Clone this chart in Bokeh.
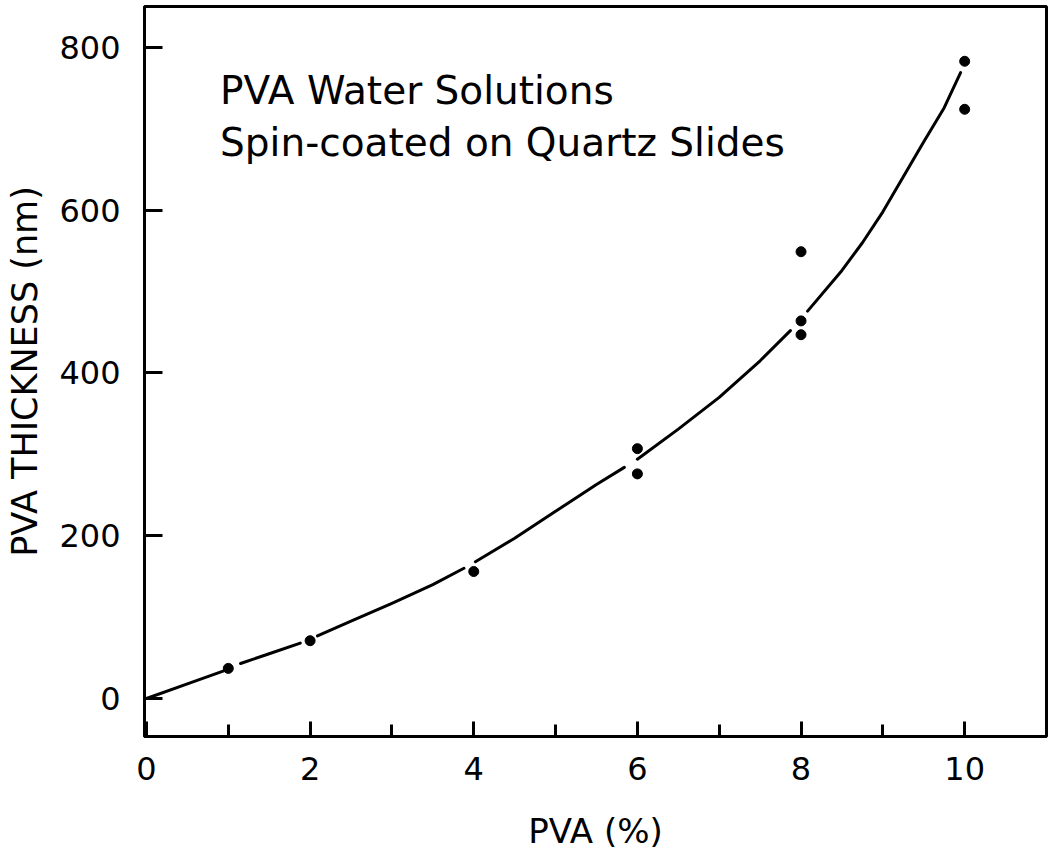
from bokeh.plotting import figure
from bokeh.models import FixedTicker, Range1d, Label
from bokeh.embed import file_html
from bokeh.resources import INLINE

# ---- data ----
pva_pct = [1, 2, 4, 6, 6, 8, 8, 8, 10, 10]
thickness_nm = [37, 71, 156, 307, 276, 549, 464, 447, 783, 724]

nan = float("nan")
# hand-drawn fit curve (pen lifted near the data points -> NaN breaks)
curve_x = [0, 0.5, 0.945, nan, 1.15, 1.5, 1.88, nan, 2.09, 2.5, 3, 3.5, 3.88, nan,
           4.02, 4.5, 5, 5.5, 5.84, nan, 6.0, 6.5, 7, 7.5, 7.87, nan,
           8.08, 8.5, 8.75, 9, 9.25, 9.5, 9.75, 9.95]
curve_y = [0, 18, 34, nan, 43, 55, 68, nan, 77, 95, 117, 140, 160, nan,
           168, 197, 230, 263, 284, nan, 294, 331, 370, 415, 452, nan,
           476, 526, 560, 598, 641, 684, 726, 769]

x_major = [0, 2, 4, 6, 8, 10]
x_minor = [1, 3, 5, 7, 9]
y_major = [0, 200, 400, 600, 800]

note_lines = ["PVA Water Solutions", "Spin-coated on Quartz Slides"]
x_title = "PVA (%)"
y_title = "PVA THICKNESS (nm)"

FONT = "DejaVu Sans"

p = figure(width=1048, height=860, output_backend="svg", toolbar_location=None,
           x_range=Range1d(-0.024, 11.0), y_range=Range1d(-46.7, 850.3),
           min_border_left=144, min_border_right=2, min_border_top=6,
           min_border_bottom=124)

p.xgrid.visible = False
p.ygrid.visible = False
p.background_fill_color = "white"
p.border_fill_color = "white"
p.outline_line_color = "black"
p.outline_line_width = 3

# x axis
xa = p.xaxis[0]
xa.ticker = FixedTicker(ticks=x_major, minor_ticks=x_minor)
xa.axis_line_width = 3
xa.major_tick_line_width = 3
xa.minor_tick_line_width = 3
xa.major_tick_in = 15
xa.major_tick_out = 0
xa.minor_tick_in = 12
xa.minor_tick_out = 0
xa.major_label_standoff = 20
xa.major_label_text_font = FONT
xa.major_label_text_font_size = "32px"
xa.major_label_text_color = "black"
xa.axis_label = x_title
xa.axis_label_text_font = FONT
xa.axis_label_text_font_size = "34px"
xa.axis_label_text_font_style = "normal"
xa.axis_label_text_color = "black"
xa.axis_label_standoff = 28

# y axis
ya = p.yaxis[0]
ya.ticker = FixedTicker(ticks=y_major, minor_ticks=[])
ya.axis_line_width = 3
ya.major_tick_line_width = 3
ya.major_tick_in = 18
ya.major_tick_out = 0
ya.minor_tick_in = 0
ya.minor_tick_out = 0
ya.major_label_standoff = 24
ya.major_label_text_font = FONT
ya.major_label_text_font_size = "32px"
ya.major_label_text_color = "black"
ya.axis_label = y_title
ya.axis_label_text_font = FONT
ya.axis_label_text_font_size = "35px"
ya.axis_label_text_font_style = "normal"
ya.axis_label_text_color = "black"
ya.axis_label_standoff = 11

# curve and points
p.line(curve_x, curve_y, line_color="black", line_width=3, line_cap="round",
       line_join="round")
p.scatter(pva_pct, thickness_nm, size=10, marker="circle",
          fill_color="black", line_color="black")

# annotation text
for i, t in enumerate(note_lines):
    p.add_layout(Label(x=0.9, y=747 - i * 64, text=t, text_font=FONT,
                       text_font_size="39px", text_color="black",
                       text_baseline="alphabetic", text_align="left"))

open("out.html", "w").write(file_html(p, INLINE))
